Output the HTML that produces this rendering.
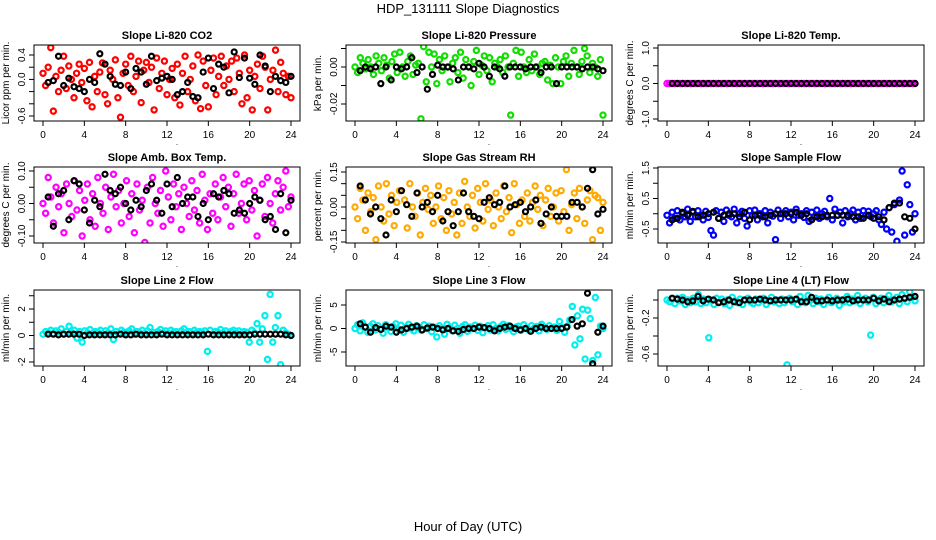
<!DOCTYPE html>
<html><head><meta charset="utf-8"><style>
body{margin:0;background:#fff}
svg{display:block;font-family:"Liberation Sans",sans-serif}
</style></head><body>
<svg id="chart" width="936" height="540" viewBox="0 0 936 540">
<text x="468" y="13" font-size="13" text-anchor="middle">HDP_131111  Slope Diagnostics</text>
<text x="468" y="531" font-size="13" text-anchor="middle">Hour of Day (UTC)</text>
</svg>
<script>
const titles=["Slope Li-820 CO2","Slope Li-820 Pressure","Slope Li-820 Temp.","Slope Amb. Box Temp.","Slope Gas Stream RH","Slope Sample Flow","Slope Line 2 Flow","Slope Line 3 Flow","Slope Line 4 (LT) Flow"];
const yTitles=["Licor ppm per min.","kPa per min.","degrees C per min.","degrees C per min.","percent per min.","ml/min per min.","ml/min per min.","ml/min per min.","ml/min per min."];
const colors=["#ff0000","#11dd00","#ff00ff","#ff00ff","#ffaa00","#0000ff","#00eeee","#00eeee","#00eeee"];
const xTicks=[0,4,8,12,16,20,24];
const yTickVals=[[0.4,0.2,0,-0.2,-0.4,-0.6],[0.01,0,-0.01,-0.02],[1,0.5,0,-0.5,-1],[0.1,0.05,0,-0.05,-0.1],[0.15,0.1,0.05,0,-0.05,-0.1,-0.15],[1.5,1,0.5,0,-0.5],[3,2,1,0,-1,-2],[5,0,-5],[0,-0.2,-0.4,-0.6]];
const yTickLabels=[["0.4","","0.0","","","-0.6"],["","0.00","","-0.02"],["1.0","","0.0","","-1.0"],["0.10","","0.00","","-0.10"],["0.15","","","0.00","","","-0.15"],["1.5","","0.5","","-0.5"],["","2","","0","","-2"],["5","0","-5"],["","-0.2","","-0.6"]];
const colA=[
[0.1,-0.1,0.2,0.52,-0.52,0.05,-0.2,0.15,0.38,-0.15,0.22,0.0,-0.3,0.1,0.25,-0.05,0.18,-0.35,0.28,-0.45,0.05,-0.2,0.12,0.27,-0.25,-0.4,0.15,0.0,0.32,-0.3,-0.62,0.1,0.25,-0.1,0.38,-0.2,0.05,0.3,-0.38,0.15,0.28,-0.05,0.2,-0.5,0.35,-0.15,0.1,0.3,-0.25,0.0,0.18,-0.3,0.25,-0.42,0.1,0.38,-0.2,0.0,0.22,-0.35,0.4,-0.48,0.3,-0.1,-0.45,0.15,0.35,-0.25,0.05,0.38,-0.1,0.22,0.0,0.3,-0.2,0.35,0.1,-0.4,0.4,-0.3,0.15,-0.5,0.05,0.25,-0.15,0.38,0.2,-0.5,0.0,0.15,0.48,-0.2,0.28,0.1,-0.25,0.05,-0.3],
[0.0,-0.003,0.005,0.002,-0.001,0.004,0.0,-0.004,0.006,0.002,-0.002,0.005,0.001,-0.006,0.003,0.007,-0.003,0.008,0.0,-0.005,0.003,0.006,-0.004,0.001,0.002,-0.028,0.011,-0.008,0.008,0.0,0.007,-0.009,0.004,-0.002,0.006,0.0,-0.008,0.002,0.005,-0.003,0.008,-0.006,0.004,0.0,-0.01,0.003,0.009,-0.004,0.001,0.006,-0.002,0.005,-0.008,0.002,0.0,0.004,-0.003,0.006,0.0,-0.026,0.002,0.009,-0.005,0.008,0.0,-0.003,0.004,-0.002,0.007,0.0,-0.004,0.002,0.003,-0.007,0.001,-0.009,0.005,0.0,-0.009,0.003,0.006,-0.005,0.002,0.009,0.0,-0.004,0.003,0.01,0.006,-0.003,0.002,0.0,-0.005,0.004,-0.026],
new Array(97).fill(0),
[0.0,-0.03,0.08,0.02,-0.06,0.05,-0.01,0.03,-0.09,0.06,0.0,-0.04,0.07,-0.02,0.04,-0.1,0.01,0.06,-0.05,0.03,-0.07,0.08,0.0,-0.03,0.05,-0.08,0.02,0.09,-0.01,0.04,-0.06,0.0,0.07,-0.04,0.03,-0.09,0.06,-0.02,0.01,-0.12,0.05,-0.06,0.08,0.0,-0.03,0.04,-0.07,0.1,0.02,-0.05,0.06,-0.01,0.03,-0.08,0.05,0.0,-0.04,0.07,-0.02,0.04,-0.06,0.09,0.01,-0.08,0.03,-0.03,0.06,-0.05,0.02,0.08,-0.01,0.05,-0.07,0.03,0.09,-0.03,0.0,0.06,-0.05,0.07,-0.02,0.04,-0.1,0.01,0.06,-0.04,0.08,0.0,-0.06,0.03,0.07,-0.02,0.05,0.1,-0.01,0.02],
[0.0,-0.05,0.08,0.03,-0.1,0.06,-0.02,0.04,-0.14,0.09,0.0,-0.06,0.1,-0.03,0.05,-0.08,0.02,0.07,-0.17,0.03,-0.09,0.1,0.0,-0.04,0.06,-0.12,0.02,0.08,-0.01,0.05,-0.07,0.0,0.09,-0.05,0.04,-0.1,0.07,-0.03,0.02,-0.12,0.06,-0.07,0.11,0.0,-0.04,0.05,-0.09,0.08,0.02,-0.06,0.1,-0.01,0.03,-0.08,0.06,0.0,-0.05,0.09,-0.02,0.04,-0.11,0.1,0.01,-0.07,0.03,-0.04,0.06,-0.06,0.02,0.09,-0.01,0.05,-0.08,0.03,0.08,-0.04,0.0,0.06,-0.06,0.07,-0.02,0.16,-0.1,0.01,0.06,-0.05,0.08,0.0,-0.07,0.03,0.07,-0.14,0.05,0.04,-0.1,0.02],
[-0.05,-0.3,0.05,-0.15,0.1,-0.2,0.0,-0.1,0.15,-0.25,0.05,-0.1,0.1,-0.05,-0.2,0.08,-0.12,-0.55,-0.7,0.1,-0.15,0.05,-0.25,0.12,-0.05,-0.1,0.15,-0.3,0.0,0.08,-0.15,-0.4,0.1,-0.05,0.12,-0.2,0.0,-0.1,0.1,-0.3,0.05,-0.08,-0.85,0.12,-0.15,0.0,0.1,-0.1,0.05,-0.2,0.15,-0.05,0.0,-0.12,0.1,-0.25,0.05,-0.1,0.12,-0.15,0.0,0.08,-0.1,0.5,-0.2,0.15,-0.05,0.05,-0.3,0.1,-0.1,0.0,0.12,-0.2,0.05,-0.15,0.1,-0.05,0.08,-0.1,0.0,0.1,-0.2,-0.35,0.05,-0.5,0.2,-0.6,0.3,-0.9,0.45,1.4,-0.7,0.95,0.3,-0.6,0.0],
[0.1,0.3,0.2,0.4,0.15,0.35,0.25,0.5,0.1,0.3,0.7,0.2,0.4,-0.2,0.3,-0.5,0.35,0.2,0.45,0.15,0.3,0.25,0.4,0.1,0.35,0.2,0.5,-0.3,0.3,0.15,0.4,0.25,0.2,0.35,0.5,0.1,0.3,0.2,0.4,0.15,0.35,0.6,0.25,0.1,0.3,0.45,0.2,0.35,0.15,0.4,0.25,0.3,0.1,0.35,0.5,0.2,0.3,0.15,0.4,0.25,0.3,0.2,0.35,-1.2,0.4,0.1,0.3,0.25,0.45,0.2,0.35,0.15,0.3,0.4,0.2,0.35,0.1,0.3,0.25,-0.5,0.4,0.2,0.9,-0.5,0.5,1.5,-1.8,3.1,-0.5,0.6,1.5,-2.2,0.4,0.2,0.1,0.0],
[0.0,0.8,-0.5,1.2,0.3,-0.8,0.5,1.0,-0.3,0.6,0.0,-1.0,0.8,0.2,-0.6,0.4,1.0,-0.2,0.7,-0.8,0.3,0.9,0.0,-0.5,0.6,0.2,-0.4,0.8,0.0,0.5,-0.7,0.3,-1.8,0.6,0.0,-1.2,0.9,0.2,-0.5,0.7,0.0,-1.0,0.4,0.8,-0.6,0.3,0.0,0.7,-0.4,0.5,-0.9,0.2,0.6,-0.3,0.8,0.0,-0.5,0.4,0.9,-0.2,0.6,0.0,-0.7,0.3,0.5,-0.4,0.8,0.1,-0.3,0.6,0.0,0.4,-0.5,0.9,0.2,-0.2,0.6,0.0,0.3,-0.4,1.5,0.2,-0.8,0.5,1.8,4.7,-3.5,2.7,-2.2,4.1,-6.5,3.9,2.1,-6.8,6.6,-5.6,0.5,0.0],
[0.0,-0.02,0.01,-0.04,0.02,-0.01,0.03,-0.05,0.0,-0.03,0.02,-0.02,0.06,-0.04,0.01,-0.03,-0.42,0.0,-0.05,0.02,-0.02,0.01,-0.04,0.0,-0.06,0.03,-0.01,-0.03,0.01,-0.05,0.0,0.02,-0.02,-0.04,0.01,-0.03,0.0,0.02,-0.05,-0.01,0.03,-0.02,0.0,-0.04,0.01,-0.03,-0.72,0.02,-0.02,0.0,-0.05,0.04,-0.01,-0.03,0.05,0.0,-0.04,0.02,-0.02,0.01,-0.05,0.0,0.03,-0.03,-0.01,0.02,-0.06,0.0,-0.02,0.04,-0.03,0.01,-0.01,0.05,-0.04,0.0,0.02,-0.02,-0.39,0.03,-0.04,0.0,0.02,-0.03,0.01,0.05,-0.02,0.0,0.03,-0.04,0.06,0.01,-0.02,0.09,0.03,-0.01]];
const blackA=[
[-0.05,-0.02,0.38,-0.1,0.02,-0.12,-0.15,-0.2,0.0,-0.05,0.42,0.25,0.05,-0.08,-0.1,0.12,-0.15,0.18,0.12,-0.08,0.38,-0.02,0.02,0.05,0.0,-0.25,-0.2,-0.05,-0.28,-0.3,0.12,0.35,-0.15,0.25,0.2,-0.22,0.45,0.03,0.35,0.02,-0.08,0.4,0.22,-0.2,0.05,-0.02,-0.05,0.05],
[-0.002,0.0,-0.001,0.0,-0.009,0.0,-0.007,0.0,-0.001,0.0,0.005,-0.003,0.0,-0.012,-0.004,0.001,0.0,0.0,-0.001,-0.007,0.0,0.0,-0.001,0.002,0.0,-0.005,0.0,-0.001,-0.005,0.0,0.0,0.0,-0.001,0.0,0.0,-0.003,0.0,0.0,-0.009,0.0,0.0,0.0,0.0,-0.001,0.0,0.0,-0.001,-0.002],
new Array(48).fill(0),
[0.02,-0.07,0.03,0.04,-0.05,0.07,0.06,-0.02,-0.06,0.01,-0.01,0.09,0.04,0.03,0.05,0.0,-0.02,0.01,-0.01,0.04,0.06,0.01,-0.03,0.06,-0.01,0.08,0.0,0.02,0.02,-0.04,0.0,-0.05,0.03,0.02,0.04,0.03,-0.03,-0.02,-0.03,0.0,0.02,0.01,-0.05,-0.04,-0.08,0.03,-0.09,0.01],
[0.09,0.03,-0.03,0.0,-0.05,-0.12,0.03,-0.02,0.07,0.01,-0.04,0.06,0.0,0.02,-0.02,0.05,-0.06,-0.02,-0.08,-0.02,0.06,-0.02,-0.04,-0.05,0.02,0.04,0.01,0.02,0.09,0.0,0.01,0.02,-0.02,0.0,0.03,-0.07,-0.03,0.0,-0.04,-0.04,-0.04,0.02,0.02,0.0,0.08,0.16,-0.03,-0.01],
[-0.2,-0.15,0.05,-0.05,0.08,-0.1,-0.05,0.0,0.05,-0.15,-0.05,0.0,0.0,-0.1,0.05,-0.2,-0.05,-0.05,-0.1,-0.05,0.0,0.0,0.0,0.0,0.05,-0.05,0.0,-0.2,-0.1,-0.1,-0.05,-0.05,-0.05,-0.05,-0.05,-0.1,-0.1,-0.15,-0.05,-0.15,-0.1,-0.2,0.2,0.35,0.35,-0.1,-0.15,-0.5],
[0.1,0.1,0.05,0.1,0.1,0.1,0.1,0.0,0.05,0.05,0.05,0.05,0.05,0.05,0.1,0.05,0.05,0.1,0.05,0.05,0.05,0.05,0.1,0.05,0.05,0.05,0.05,0.05,0.05,0.05,0.05,0.1,0.05,0.05,0.05,0.05,0.05,0.05,0.05,0.05,0.1,0.1,0.1,0.1,0.1,0.1,0.05,0.0],
[1.0,0.3,-0.8,0.2,-0.2,0.5,0.3,-0.8,-0.3,0.0,0.3,0.5,-0.3,0.1,0.3,0.0,-0.3,0.0,-0.5,-0.6,-0.2,0.0,0.0,0.3,0.2,0.0,-0.5,0.0,0.3,0.5,0.0,-0.3,0.0,-0.6,0.0,0.3,0.0,0.0,0.0,0.0,0.3,1.9,0.5,1.0,7.5,-7.5,-0.8,0.5],
[0.02,0.01,0.0,-0.02,-0.01,0.04,-0.01,0.01,0.0,-0.03,-0.02,0.0,-0.02,-0.03,0.0,0.0,0.0,0.01,0.0,-0.01,0.0,0.0,0.0,0.0,0.01,-0.02,-0.02,0.03,-0.01,-0.01,0.0,-0.01,0.0,0.0,0.01,-0.01,0.0,0.0,0.0,0.02,-0.01,0.01,-0.02,0.0,0.01,0.02,0.03,0.04]];
const yCal=[[0.4,55,-0.6,116],[0,67,-0.02,104],[1,48,-1,119],[0.1,171,-0.1,236],[0.15,172,-0.15,242],[1.5,168,-0.5,229],[2,309,-2,362],[5,305,-5,352],[0,300,-0.6,354]];
const lefts=[34,346,658], tops=[45,167,290], W=266, H=76;
const NS="http://www.w3.org/2000/svg";
const svg=document.getElementById('chart');
function mk(tag,attrs,parent){const e=document.createElementNS(NS,tag);for(const k in attrs)e.setAttribute(k,attrs[k]);(parent||svg).appendChild(e);return e;}
for(let p=0;p<9;p++){
  const L=lefts[p%3],T=tops[Math.floor(p/3)];
  const g=mk('g',{});
  
  
  const xs=v=>L+9+v*(248/24);
  const c=yCal[p];
  const ys=v=>c[1]+(v-c[0])*(c[3]-c[1])/(c[2]-c[0]);
  const clip=mk('clipPath',{id:'cp'+p},g);mk('rect',{x:L,y:T,width:W,height:H},clip);
  const t=mk('text',{x:L+W/2,y:T-6,'font-size':11,'font-weight':'bold','text-anchor':'middle'},g);t.textContent=titles[p];
  
  
  const pts=mk('g',{'clip-path':'url(#cp'+p+')',fill:'none','stroke-width':2.2},g);
  const ca=colA[p];
  ca.forEach((v,i)=>{const cc=mk('circle',{cx:xs(i*24/(ca.length-1)),cy:ys(v),r:2.6,stroke:colors[p]},pts);
    
    });
  const ba=blackA[p];
  ba.forEach((v,i)=>{const cc=mk('circle',{cx:xs(0.5+i*23.5/(ba.length-1)),cy:ys(v),r:2.5,stroke:'#000'},pts);
    
    });
  const box=mk('rect',{x:L,y:T,width:W,height:H,fill:'none',stroke:'#000','stroke-width':1},g);
  
  
  xTicks.forEach(v=>{mk('line',{x1:xs(v),x2:xs(v),y1:T+H,y2:T+H+5,stroke:'#000'},g);
    const tl=mk('text',{x:xs(v),y:T+H+17,'font-size':10,'text-anchor':'middle'},g);tl.textContent=v;
    
    });
  const dot=mk('text',{x:L+143,y:T+H+24,'font-size':8,'text-anchor':'middle'},g);dot.textContent='.';
  yTickVals[p].forEach((v,i)=>{const y=ys(v);mk('line',{x1:L-5,x2:L,y1:y,y2:y,stroke:'#000'},g);
    const lab=yTickLabels[p][i];
    if(lab){const tl=mk('text',{x:L-9,y:y,'font-size':10,'text-anchor':'middle',transform:`rotate(-90 ${L-9} ${y})`},g);tl.textContent=lab;
      
      }});
  const yt=mk('text',{x:L-25,y:T+H/2,'font-size':10,'text-anchor':'middle',transform:`rotate(-90 ${L-25} ${T+H/2})`},g);yt.textContent=yTitles[p];
  
  
}
</script>
</body></html>
